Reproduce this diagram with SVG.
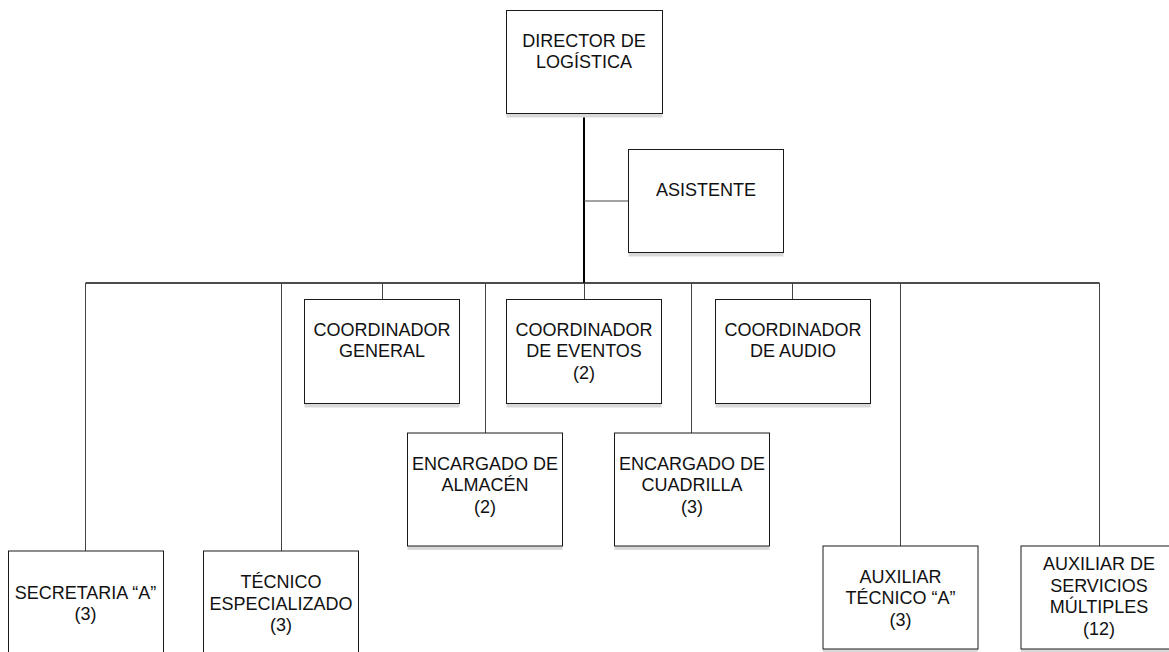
<svg xmlns="http://www.w3.org/2000/svg" width="1169" height="652" viewBox="0 0 1169 652">
  <style>
    .box { fill: #ffffff; stroke: #1a1a1a; stroke-width: 1; }
    .shadow { fill: #d9d9d9; }
    .lbl { font-family: "Liberation Sans", Arial, sans-serif; font-size: 18px; fill: #111111; text-anchor: middle; }
    .trunk { stroke: #000000; stroke-width: 2; fill: none; }
    .bar { stroke: #111111; stroke-width: 1.6; fill: none; }
    .drop { stroke: #444444; stroke-width: 1; fill: none; }
  </style>
  <rect width="1169" height="652" fill="#ffffff"/>

  <!-- connectors -->
  <g id="connectors">
    <line class="trunk" x1="584" y1="113" x2="584" y2="283"/>
    <line class="drop" x1="584" y1="201" x2="628.5" y2="201"/>
    <line class="bar" x1="85.5" y1="283" x2="1099.5" y2="283"/>
    <line class="drop" x1="85.5" y1="283" x2="85.5" y2="551"/>
    <line class="drop" x1="281.5" y1="283" x2="281.5" y2="551"/>
    <line class="drop" x1="382.5" y1="283" x2="382.5" y2="299.5"/>
    <line class="drop" x1="485.5" y1="283" x2="485.5" y2="433"/>
    <line class="drop" x1="584.5" y1="283" x2="584.5" y2="299.5"/>
    <line class="drop" x1="691.5" y1="283" x2="691.5" y2="433"/>
    <line class="drop" x1="792.5" y1="283" x2="792.5" y2="299.5"/>
    <line class="drop" x1="900.5" y1="283" x2="900.5" y2="546"/>
    <line class="drop" x1="1099.5" y1="283" x2="1099.5" y2="546"/>
  </g>

  <g id="director">
    <rect class="shadow" x="506.5" y="113.5" width="156" height="4"/>
    <rect class="box" x="506.5" y="10.5" width="156" height="103"/>
    <text class="lbl" x="584" y="46.5">DIRECTOR DE</text>
    <text class="lbl" x="584" y="68">LOGÍSTICA</text>
  </g>

  <g id="asistente">
    <rect class="shadow" x="628.5" y="252.5" width="155" height="4"/>
    <rect class="box" x="628.5" y="149.5" width="155" height="103"/>
    <text class="lbl" x="706" y="196">ASISTENTE</text>
  </g>

  <g id="coord-general">
    <rect class="shadow" x="304.5" y="403.5" width="155" height="4"/>
    <rect class="box" x="304.5" y="299.5" width="155" height="104"/>
    <text class="lbl" x="382" y="335.5">COORDINADOR</text>
    <text class="lbl" x="382" y="357">GENERAL</text>
  </g>

  <g id="coord-eventos">
    <rect class="shadow" x="506.5" y="403.5" width="155" height="4"/>
    <rect class="box" x="506.5" y="299.5" width="155" height="104"/>
    <text class="lbl" x="584" y="335.5">COORDINADOR</text>
    <text class="lbl" x="584" y="357">DE EVENTOS</text>
    <text class="lbl" x="584" y="378.5">(2)</text>
  </g>

  <g id="coord-audio">
    <rect class="shadow" x="715.5" y="403.5" width="155" height="4"/>
    <rect class="box" x="715.5" y="299.5" width="155" height="104"/>
    <text class="lbl" x="793" y="335.5">COORDINADOR</text>
    <text class="lbl" x="793" y="357">DE AUDIO</text>
  </g>

  <g id="encargado-almacen">
    <rect class="shadow" x="407.5" y="546" width="155" height="4"/>
    <rect class="box" x="407.5" y="433" width="155" height="113"/>
    <text class="lbl" x="485" y="469.5">ENCARGADO DE</text>
    <text class="lbl" x="485" y="491">ALMACÉN</text>
    <text class="lbl" x="485" y="512.5">(2)</text>
  </g>

  <g id="encargado-cuadrilla">
    <rect class="shadow" x="614.5" y="546" width="155" height="4"/>
    <rect class="box" x="614.5" y="433" width="155" height="113"/>
    <text class="lbl" x="692" y="469.5">ENCARGADO DE</text>
    <text class="lbl" x="692" y="491">CUADRILLA</text>
    <text class="lbl" x="692" y="512.5">(3)</text>
  </g>

  <g id="secretaria">
    <rect class="box" x="8.5" y="551" width="155" height="110"/>
    <text class="lbl" x="85.5" y="598.5">SECRETARIA “A”</text>
    <text class="lbl" x="85.5" y="620">(3)</text>
  </g>

  <g id="tecnico-especializado">
    <rect class="box" x="203.5" y="551" width="155" height="110"/>
    <text class="lbl" x="281" y="588">TÉCNICO</text>
    <text class="lbl" x="281" y="609.5">ESPECIALIZADO</text>
    <text class="lbl" x="281" y="631">(3)</text>
  </g>

  <g id="auxiliar-tecnico">
    <rect class="shadow" x="823" y="649" width="155" height="3"/>
    <rect class="box" x="823" y="546" width="155" height="103"/>
    <text class="lbl" x="900.5" y="582.5">AUXILIAR</text>
    <text class="lbl" x="900.5" y="604">TÉCNICO “A”</text>
    <text class="lbl" x="900.5" y="625.5">(3)</text>
  </g>

  <g id="auxiliar-servicios">
    <rect class="shadow" x="1021" y="649" width="156" height="3"/>
    <rect class="box" x="1021" y="546" width="156" height="103"/>
    <text class="lbl" x="1099" y="570">AUXILIAR DE</text>
    <text class="lbl" x="1099" y="591.5">SERVICIOS</text>
    <text class="lbl" x="1099" y="613">MÚLTIPLES</text>
    <text class="lbl" x="1099" y="634.5">(12)</text>
  </g>
</svg>
